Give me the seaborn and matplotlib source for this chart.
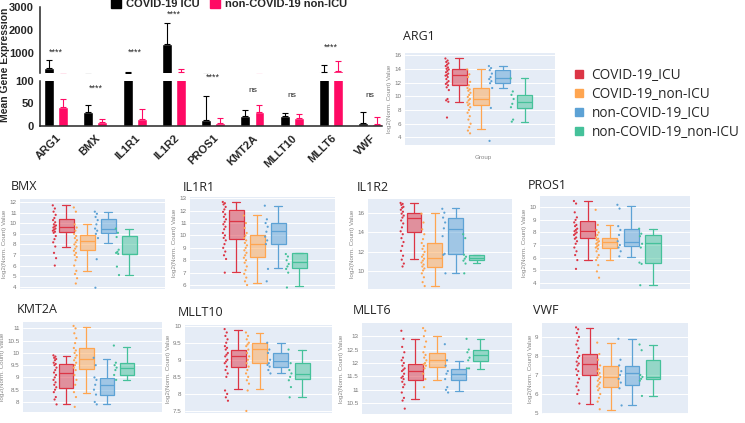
import numpy as np
import pandas as pd
import matplotlib
matplotlib.use("Agg")
import matplotlib.pyplot as plt
from matplotlib.colors import to_rgba
from matplotlib.lines import Line2D
from matplotlib.patches import Patch
from matplotlib.ticker import FuncFormatter
import seaborn as sns

# ---- bar chart data (mean expression, top of error bar) ----
genes = ["ARG1", "BMX", "IL1R1", "IL1R2", "PROS1", "KMT2A", "MLLT10", "MLLT6", "VWF"]
icu_mean = [340, 30, 110, 1380, 13, 23, 21, 130, 7]
icu_err = [665, 47, 150, 2320, 66, 36, 29, 445, 31]
nonicu_mean = [42, 8, 16, 150, 6, 31, 18, 195, 5]
nonicu_err = [60, 15, 37, 270, 17, 46, 26, 635, 20]
sig_text = ["****", "****", "****", "****", "****", "ns", "ns", "****", "ns"]
sig_y = [1000, 84, 1000, 2700, 107, 79, 68, 1260, 67]
bar_groups = ["COVID-19 ICU", "non-COVID-19 non-ICU"]

# ---- box panels: (low whisker, q1, median, q3, high whisker) per group ----
groups = ["COVID-19_ICU", "COVID-19_non-ICU", "non-COVID-19_ICU", "non-COVID-19_non-ICU"]

arg1_box = [(9.2, 11.6, 13.1, 14.0, 15.5), (5.3, 8.7, 9.55, 11.15, 13.9),
            (11.15, 11.9, 12.6, 13.8, 14.45), (6.3, 8.3, 9.2, 10.25, 12.6)]
arg1_pts = [[15.5, 15.2, 15.0, 14.8, 14.6, 14.4, 14.2, 14.0, 13.9, 13.7, 13.5, 13.3, 13.1, 13.0,
             12.8, 12.5, 12.2, 12.0, 11.8, 11.6, 11.3, 10.9, 9.6, 9.4, 9.2, 6.9],
            [13.9, 13.2, 12.8, 12.1, 11.6, 11.2, 11.0, 10.8, 10.5, 10.2, 9.9, 9.6, 9.4, 9.1,
             8.9, 8.7, 8.4, 8.0, 7.6, 7.1, 6.6, 6.0, 5.5, 5.0, 4.6],
            [14.4, 14.1, 13.8, 13.3, 12.8, 12.5, 12.2, 11.9, 11.2, 8.3, 3.5],
            [12.6, 10.7, 10.2, 9.6, 8.9, 8.4, 6.6, 6.3]]
arg1_ticks = [4, 6, 8, 10, 12, 14, 16]

bmx_box = [(7.8, 9.15, 9.65, 10.45, 11.7), (5.45, 7.45, 8.35, 8.9, 9.95),
           (8.1, 9.05, 9.5, 10.45, 11.1), (5.1, 7.1, 7.1, 8.75, 9.5)]
bmx_pts = [[11.7, 11.4, 11.1, 10.8, 10.5, 10.3, 10.1, 9.9, 9.8, 9.7, 9.6, 9.5, 9.4, 9.3, 9.2,
            9.1, 8.8, 8.5, 8.2, 7.8, 7.2, 6.7, 6.0],
           [11.5, 11.1, 9.9, 9.6, 9.3, 9.0, 8.8, 8.6, 8.4, 8.2, 8.0, 7.8, 7.6, 7.4, 7.2, 7.0,
            6.8, 6.5, 6.0, 5.5, 5.2, 4.8, 4.3],
           [11.1, 10.9, 10.6, 10.3, 9.9, 9.5, 9.3, 9.0, 8.6, 6.6, 3.9],
           [9.5, 9.1, 8.7, 7.5, 7.3, 7.2, 7.1, 5.9, 5.1]]
bmx_ticks = [4, 5, 6, 7, 8, 9, 10, 11, 12]

il1r1_box = [(7.07, 9.68, 11.17, 12.06, 12.68), (6.13, 8.23, 9.28, 10.03, 11.65),
             (7.34, 9.28, 10.36, 10.98, 12.35), (5.91, 7.34, 7.82, 8.55, 8.55)]
il1r1_pts = [[12.7, 12.6, 12.5, 12.3, 12.1, 11.9, 11.7, 11.5, 11.3, 11.1, 10.9, 10.7, 10.5,
              10.2, 10.0, 9.8, 9.6, 9.3, 9.0, 8.7, 8.4, 8.1, 7.0],
             [11.6, 11.0, 10.6, 10.2, 10.0, 9.8, 9.6, 9.4, 9.2, 9.0, 8.8, 8.6, 8.4, 8.2, 8.0,
              7.8, 7.5, 7.2, 6.9, 6.6, 6.3, 6.0],
             [12.4, 11.3, 11.0, 10.7, 10.3, 9.9, 9.6, 9.3, 7.3, 6.3],
             [8.5, 8.3, 8.0, 7.7, 7.5, 7.3, 7.0, 5.8]]
il1r1_ticks = [6, 7, 8, 9, 10, 11, 12, 13]

il1r2_box = [(11.3, 13.98, 15.49, 16.0, 17.0), (8.53, 10.5, 11.38, 12.9, 15.93),
             (9.84, 11.8, 14.36, 15.49, 16.45), (10.86, 11.14, 11.41, 11.65, 11.7)]
il1r2_pts = [[17.0, 16.9, 16.8, 16.6, 16.5, 16.3, 16.1, 15.9, 15.7, 15.5, 15.2, 14.9, 14.5,
              14.1, 13.8, 13.4, 13.0, 12.6, 12.1, 11.6, 11.2, 10.8, 10.5],
             [15.9, 15.0, 14.3, 13.8, 13.3, 12.9, 12.6, 12.3, 12.0, 11.7, 11.5, 11.3, 11.1,
              10.9, 10.7, 10.5, 10.3, 10.1, 9.8, 9.4, 8.9, 8.5],
             [16.4, 16.0, 15.5, 15.0, 14.4, 13.6, 11.8, 11.7, 9.8],
             [13.8, 13.4, 11.7, 11.5, 11.3, 11.1, 10.8, 9.8]]
il1r2_ticks = [10, 12, 14, 16]

pros1_box = [(5.81, 7.53, 8.09, 8.94, 10.53), (5.81, 6.74, 7.27, 7.53, 8.6),
             (6.07, 6.92, 7.27, 8.25, 10.13), (3.82, 5.54, 7.14, 7.77, 8.25)]
pros1_pts = [[10.5, 10.3, 9.6, 9.2, 9.0, 8.8, 8.6, 8.5, 8.3, 8.2, 8.1, 8.0, 7.9, 7.8, 7.6, 7.5,
              7.3, 7.1, 6.8, 6.5, 6.2, 5.8, 5.1],
             [9.8, 8.6, 8.2, 8.0, 7.8, 7.6, 7.5, 7.4, 7.3, 7.2, 7.1, 7.0, 6.9, 6.8, 6.7, 6.5,
              6.2, 6.0, 5.8, 5.4, 4.9, 4.4],
             [10.2, 9.9, 8.5, 8.2, 7.8, 7.3, 7.0, 6.8, 6.5, 6.1],
             [8.3, 7.9, 7.7, 7.1, 6.8, 5.6, 5.5, 3.8]]
pros1_ticks = [4, 5, 6, 7, 8, 9, 10]

kmt2a_box = [(7.9, 8.57, 9.16, 9.55, 9.88), (8.38, 9.36, 9.74, 10.18, 11.05),
             (7.9, 8.3, 8.69, 8.98, 9.77), (8.89, 9.08, 9.39, 9.57, 10.26)]
kmt2a_pts = [[9.9, 9.85, 9.8, 9.75, 9.7, 9.6, 9.55, 9.5, 9.4, 9.3, 9.2, 9.1, 9.0, 8.9, 8.8,
              8.7, 8.6, 8.5, 8.4, 8.2, 8.1, 7.9],
             [11.1, 11.0, 10.8, 10.6, 10.4, 10.2, 10.1, 10.0, 9.9, 9.8, 9.7, 9.6, 9.5, 9.4,
              9.3, 9.1, 8.9, 8.7, 8.4, 8.2, 7.8],
             [9.8, 9.5, 9.0, 8.9, 8.7, 8.5, 8.3, 8.0, 7.9],
             [10.3, 9.6, 9.5, 9.4, 9.3, 9.1, 8.9]]
kmt2a_ticks = [8, 8.5, 9, 9.5, 10, 10.5, 11]

mllt10_box = [(8.13, 8.8, 9.11, 9.29, 9.88), (8.13, 8.9, 9.31, 9.48, 9.78),
              (8.6, 8.8, 8.95, 9.19, 9.48), (7.92, 8.43, 8.58, 8.9, 9.29)]
mllt10_pts = [[9.9, 9.8, 9.7, 9.6, 9.5, 9.4, 9.35, 9.3, 9.2, 9.15, 9.1, 9.0, 8.95, 8.9, 8.8,
               8.7, 8.6, 8.5, 8.1, 8.0, 7.9, 7.8],
              [9.8, 9.7, 9.6, 9.5, 9.45, 9.4, 9.3, 9.2, 9.1, 9.0, 8.9, 8.8, 8.7, 8.6, 8.5,
               8.4, 8.3, 8.1, 7.5],
              [9.5, 9.3, 9.2, 9.0, 8.9, 8.85, 8.8, 8.7, 8.6],
              [9.3, 8.9, 8.7, 8.6, 8.5, 8.4, 8.2, 7.9]]
mllt10_ticks = [7.5, 8, 8.5, 9, 9.5, 10]

mllt6_box = [(10.66, 11.36, 11.69, 11.98, 12.9), (11.36, 11.85, 12.1, 12.38, 13.02),
             (10.96, 11.36, 11.58, 11.79, 12.08), (11.79, 12.08, 12.29, 12.5, 12.9)]
mllt6_pts = [[13.2, 12.9, 12.6, 12.4, 12.2, 12.1, 12.0, 11.9, 11.8, 11.75, 11.7, 11.6, 11.5,
              11.45, 11.4, 11.3, 11.2, 11.1, 10.9, 10.7, 10.6, 10.3],
             [13.3, 13.2, 13.0, 12.8, 12.6, 12.4, 12.3, 12.2, 12.1, 12.0, 11.95, 11.9, 11.8,
              11.6, 11.4, 11.1],
             [12.7, 12.1, 11.9, 11.7, 11.6, 11.4, 11.1, 11.0, 10.9],
             [12.9, 12.5, 12.4, 12.2, 12.1, 11.8, 11.8]]
mllt6_ticks = [10.5, 11, 11.5, 12, 12.5, 13]

vwf_box = [(5.49, 7.0, 7.59, 8.08, 9.49), (5.16, 6.39, 6.91, 7.49, 8.7),
           (5.4, 6.48, 7.09, 7.49, 8.91), (5.87, 6.77, 6.88, 7.78, 8.6)]
vwf_pts = [[9.5, 9.4, 9.2, 9.0, 8.8, 8.6, 8.4, 8.2, 8.0, 7.9, 7.7, 7.6, 7.5, 7.3, 7.2, 7.0,
            6.8, 6.6, 6.4, 6.2, 6.0, 5.5],
           [8.7, 8.1, 7.8, 7.5, 7.3, 7.2, 7.1, 7.0, 6.9, 6.8, 6.7, 6.6, 6.5, 6.4, 6.3, 6.2,
            6.0, 5.8, 5.6, 5.2],
           [8.9, 7.8, 7.5, 7.2, 7.0, 6.8, 6.6, 6.3, 5.4],
           [8.6, 8.3, 7.0, 6.9, 6.8, 6.7, 5.9]]
vwf_ticks = [5, 6, 7, 8, 9]

# ---- styling / layout (pixels of the 745x423 canvas) ----
W, H = 745, 423
BLACK, PINK = "#000000", "#FF0A64"
box_colors = ["#DC3545", "#FFA550", "#5DA2D5", "#45C19A"]
BG = "#E5ECF6"

# gene, stats, points, ticks, ylim, (left, top, right, bottom), first-box x0, title xy
panels = [
    ("ARG1", arg1_box, arg1_pts, arg1_ticks, (2.9, 16.3), (405, 53, 555, 145), -2.5, (403, 37)),
    ("BMX", bmx_box, bmx_pts, bmx_ticks, (3.78, 12.3), (20, 199, 165, 289), -2.2, (11, 186)),
    ("IL1R1", il1r1_box, il1r1_pts, il1r1_ticks, (5.68, 13.1), (190, 197, 335, 289), -2.2, (183, 187)),
    ("IL1R2", il1r2_box, il1r2_pts, il1r2_ticks, (8.2, 17.4), (368, 199, 512, 289), -2.2, (357, 187)),
    ("PROS1", pros1_box, pros1_pts, pros1_ticks, (3.5, 10.9), (540, 196, 690, 289), -2.2, (528, 185)),
    ("KMT2A", kmt2a_box, kmt2a_pts, kmt2a_ticks, (7.59, 11.26), (23, 322, 162, 412), -2.15, (17, 309)),
    ("MLLT10", mllt10_box, mllt10_pts, mllt10_ticks, (7.44, 10.02), (185, 325, 332, 413), -2.5, (178, 313)),
    ("MLLT6", mllt6_box, mllt6_pts, mllt6_ticks, (10.1, 13.49), (362, 323, 512, 414), -2.45, (353, 310)),
    ("VWF", vwf_box, vwf_pts, vwf_ticks, (4.95, 9.73), (542, 323, 688, 414), -2.25, (533, 310)),
]


def px_rect(l, t, r, b):
    return [l / W, 1 - b / H, (r - l) / W, (b - t) / H]


def draw_panel(fig, gene, stats, points, ticks, ylim, rect, x0, title_xy):
    ax = fig.add_axes(px_rect(*rect))
    ax.set_facecolor(BG)
    bx = [dict(whislo=s[0], q1=s[1], med=s[2], q3=s[3], whishi=s[4], fliers=[]) for s in stats]
    arts = ax.bxp(bx, positions=range(4), widths=0.7, capwidths=0.36, patch_artist=True,
                  showfliers=False, manage_ticks=False)
    for i, c in enumerate(box_colors):
        arts["boxes"][i].set(facecolor=to_rgba(c, 0.5), edgecolor=c, linewidth=0.9)
        arts["medians"][i].set(color=c, linewidth=0.9)
        for art in arts["whiskers"][2 * i:2 * i + 2] + arts["caps"][2 * i:2 * i + 2]:
            art.set(color=c, linewidth=0.9)

    rows = []
    for i, vals in enumerate(points):
        n = len(vals)
        jit = ((np.arange(n) * 0.618) % 1 - 0.5) * 0.16
        for v, j in zip(vals, jit):
            rows.append({"x": i - 0.56 + j, "y": v, "group": groups[i]})
    pts = pd.DataFrame(rows)
    sns.scatterplot(data=pts, x="x", y="y", hue="group", hue_order=groups, palette=box_colors,
                    s=2.5, linewidth=0, legend=False, ax=ax, zorder=3)

    ax.set_xlim(x0, x0 + 6.9)
    ax.set_ylim(*ylim)
    ax.set_xticks([])
    ax.set_yticks(ticks)
    ax.yaxis.set_major_formatter(FuncFormatter(lambda v, p: f"{v:g}"))
    ax.yaxis.grid(True, color="white", linewidth=0.7)
    ax.set_axisbelow(True)
    for s in ax.spines.values():
        s.set_visible(False)
    ax.tick_params(length=0, labelsize=4.5, colors="#777777", pad=2.5)
    ax.set_xlabel("")
    ax.set_ylabel("log2(Norm. Count) Value", fontsize=4.5, color="#888888", labelpad=1.5)
    fig.text(title_xy[0] / W, 1 - title_xy[1] / H, gene, fontsize=9, family="Open Sans",
             color="#222222", ha="left", va="center")
    return ax


def main():
    sns.set_style("white")
    plt.rcParams["font.family"] = ["Liberation Sans", "DejaVu Sans"]
    fig = plt.figure(figsize=(W / 100, H / 100), dpi=100)

    # ---- broken-axis bar chart ----
    df_bar = pd.DataFrame({
        "gene": genes * 2,
        "group": [bar_groups[0]] * len(genes) + [bar_groups[1]] * len(genes),
        "value": icu_mean + nonicu_mean,
    })
    ax_top = fig.add_axes(px_rect(40, 7.3, 382, 72.7))
    ax_bot = fig.add_axes(px_rect(40, 80.7, 382, 126))
    for ax in (ax_top, ax_bot):
        sns.barplot(data=df_bar, x="gene", y="value", hue="group", palette=[BLACK, PINK],
                    width=0.72, gap=0.3, errorbar=None, saturation=1, legend=False, ax=ax)
        for cont, errs, col in zip(ax.containers, [icu_err, nonicu_err], [BLACK, PINK]):
            for bar, err in zip(cont, errs):
                xc = bar.get_x() + bar.get_width() / 2
                top = bar.get_height()
                ax.errorbar(xc, top, yerr=[[0], [err - top]], color=col, elinewidth=0.8,
                            capsize=2.2, capthick=0.8)
        ax.set_xlim(-0.41, 8.3)
        ax.set_xlabel("")
        ax.set_ylabel("")
        for s in ["top", "right"]:
            ax.spines[s].set_visible(False)
        ax.spines["left"].set_linewidth(1.1)
        ax.tick_params(axis="y", length=3, width=1.0, labelsize=8, pad=1.5)

    ax_top.set_ylim(120, 3000)
    ax_top.set_yticks([1000, 2000, 3000])
    ax_top.set_yticklabels(["1000", "2000", "3000"], fontweight="bold", fontsize=8)
    ax_top.spines["bottom"].set_visible(False)
    ax_top.set_xticks([])

    ax_bot.set_ylim(0, 100)
    ax_bot.set_yticks([0, 50, 100])
    ax_bot.set_yticklabels(["0", "50", "100"], fontweight="bold", fontsize=8)
    ax_bot.spines["bottom"].set_linewidth(1.1)
    ax_bot.set_xticks(range(len(genes)))
    ax_bot.set_xticklabels(genes, rotation=45, ha="right", rotation_mode="anchor",
                           fontweight="bold", fontsize=8)
    ax_bot.tick_params(axis="x", length=3, width=1.0, pad=2)

    # significance labels
    for i, (txt, yv) in enumerate(zip(sig_text, sig_y)):
        target = ax_top if yv > 120 else ax_bot
        target.text(i, yv, txt, ha="center", va="center", fontsize=6 if txt == "ns" else 6.5,
                    clip_on=False)

    fig.text(5 / W, 1 - 65 / H, "Mean Gene Expression", rotation=90, fontsize=7.5,
             fontweight="bold", ha="center", va="center")
    fig.legend(handles=[Patch(color=BLACK), Patch(color=PINK)], labels=bar_groups,
               loc="center", bbox_to_anchor=(229 / W, 1 - 4 / H), ncol=2, frameon=False,
               handlelength=0.9, handleheight=0.9, handletextpad=0.4, columnspacing=1.0,
               borderpad=0, prop={"weight": "bold", "size": 8})

    # ---- box panels ----
    for gene, stats, pts, ticks, ylim, rect, x0, txy in panels:
        draw_panel(fig, gene, stats, pts, ticks, ylim, rect, x0, txy)

    fig.text(483 / W, 1 - 158 / H, "Group", fontsize=4.5, color="#888888", ha="center",
             va="center")

    # group legend on the right
    handles = [Line2D([], [], marker="s", linestyle="", markersize=5.5, color=c) for c in box_colors]
    fig.legend(handles=handles, labels=groups, loc="upper left",
               bbox_to_anchor=(567 / W, 1 - 61 / H), frameon=False, handletextpad=0.5,
               labelspacing=0.3, borderpad=0, handlelength=0.8,
               prop={"family": "Open Sans", "size": 9.8})

    fig.savefig("out.png", dpi=100)


if __name__ == "__main__":
    main()
